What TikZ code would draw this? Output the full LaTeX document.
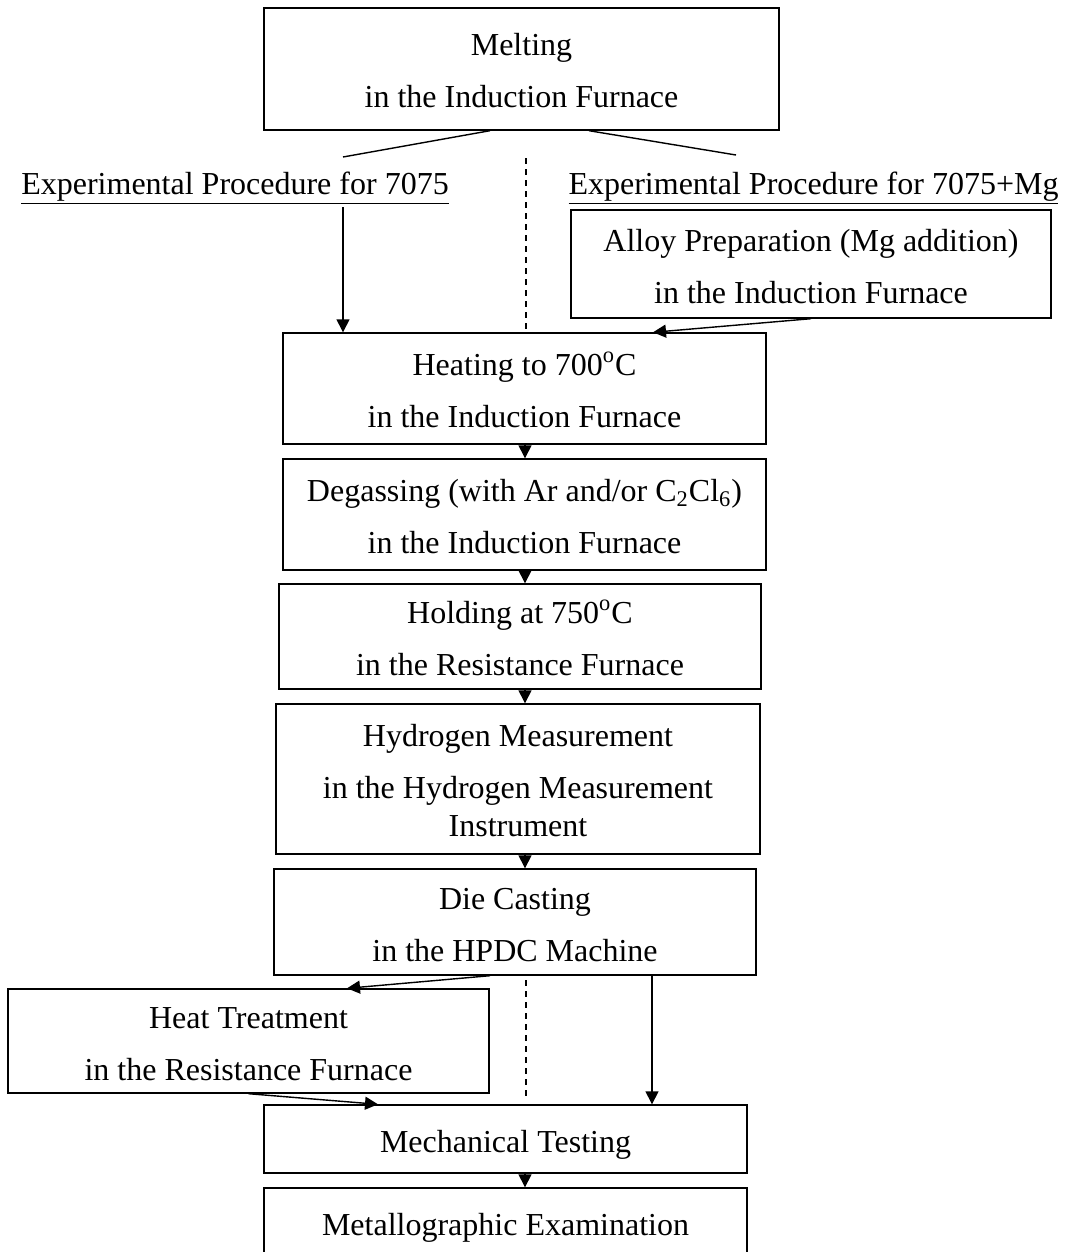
\documentclass[tikz,border=0pt]{standalone}
\usepackage{fontspec}
\setmainfont{Liberation Serif}
\usepackage{tikz}
\usetikzlibrary{arrows.meta,positioning}
\tikzset{
  basic/.style   = {draw, rectangle, inner sep=0pt, align=center, font=\fontsize{16}{19}\selectfont,
                    text depth=0pt, text height=39pt},
  stage/.style   = {basic, minimum width=241.5pt},
  single/.style  = {text height=13.5pt},
  triple/.style  = {text height=57.5pt},
  heading/.style = {inner sep=0pt, anchor=base, font=\fontsize{16}{19}\selectfont},
  divider/.style = {line width=0.6pt, dash pattern=on 3pt off 2.5pt}
}
\newcommand{\pargap}{\\[7pt]}

\begin{document}
\begin{tikzpicture}[x=0.5pt, y=-0.5pt, line width=0.7pt, >={Triangle[length=6.5pt,width=6.5pt]}]
  \useasboundingbox (0,0) rectangle (1070,1252);
  \node[stage, minimum width=257.5pt, minimum height=61pt] (melt) at (521.5,69) {Melting\pargap in the Induction Furnace};
  \node[heading] (exp7075) at (235,194) {\underline{Experimental Procedure for 7075}};
  \node[heading] (expmg) at (813.5,194) {\underline{Experimental Procedure for 7075+Mg}};
  \node[stage, minimum width=240pt, minimum height=54pt] (alloy) at (811,264) {Alloy Preparation (Mg addition)\pargap in the Induction Furnace};
  \node[stage, minimum height=55.5pt] (heat) at (524.5,388.5) {Heating to 700\textsuperscript{o}C\pargap in the Induction Furnace};
  \node[stage, minimum height=55.5pt] (degas) at (524.5,514.5) {Degassing (with Ar and/or C\textsubscript{2}Cl\textsubscript{6})\pargap in the Induction Furnace};
  \node[stage, minimum width=241pt, minimum height=52.5pt] (hold) at (520,636.5) {Holding at 750\textsuperscript{o}C\pargap in the Resistance Furnace};
  \node[stage, triple, minimum width=242pt, minimum height=75pt] (hydro) at (518,779) {Hydrogen Measurement\pargap in the Hydrogen Measurement\\ Instrument};
  \node[stage, minimum width=241pt, minimum height=53pt] (die) at (515,922) {Die Casting\pargap in the HPDC Machine};
  \node[stage, minimum width=240.5pt, minimum height=52pt] (treat) at (248.5,1041) {Heat Treatment\pargap in the Resistance Furnace};
  \node[stage, single, minimum height=34pt] (mech) at (505.5,1139) {Mechanical Testing};
  \node[stage, single, minimum height=34pt] (metal) at (505.5,1222) {Metallographic Examination};

  \coordinate (axis) at (525,0);
  \coordinate (split l) at (343,157);
  \coordinate (split r) at (736,155);
  \coordinate (drop l) at (343,207);
  \coordinate (div top) at (526,158);
  \coordinate (div mid) at (526,331);
  \coordinate (div low) at (526,980);
  \coordinate (div end) at (526,1100);

  \draw ([xshift=-15.75pt]melt.south) -- (split l);
  \draw ([xshift=33.75pt]melt.south) -- (split r);
  \draw[divider] (div top) -- (div mid);
  \draw[divider] (div low) -- (div end);
  \draw[->] (drop l) -- (drop l |- heat.north);
  \draw[->] (alloy.south) -- ([xshift=64.25pt]heat.north);
  \draw[->] (heat.south -| axis) -- (degas.north -| axis);
  \draw[->] (degas.south -| axis) -- (hold.north -| axis);
  \draw[->] (hold.south -| axis) -- (hydro.north -| axis);
  \draw[->] (hydro.south -| axis) -- (die.north -| axis);
  \draw[->] ([xshift=-12.5pt]die.south) -- ([xshift=49.25pt]treat.north);
  \draw[->] ([xshift=68.5pt]die.south) -- ([xshift=68.5pt]die.south |- mech.north);
  \draw[->] (treat.south) -- ([xshift=-63.75pt]mech.north);
  \draw[->] (mech.south -| axis) -- (metal.north -| axis);
\end{tikzpicture}
\end{document}
